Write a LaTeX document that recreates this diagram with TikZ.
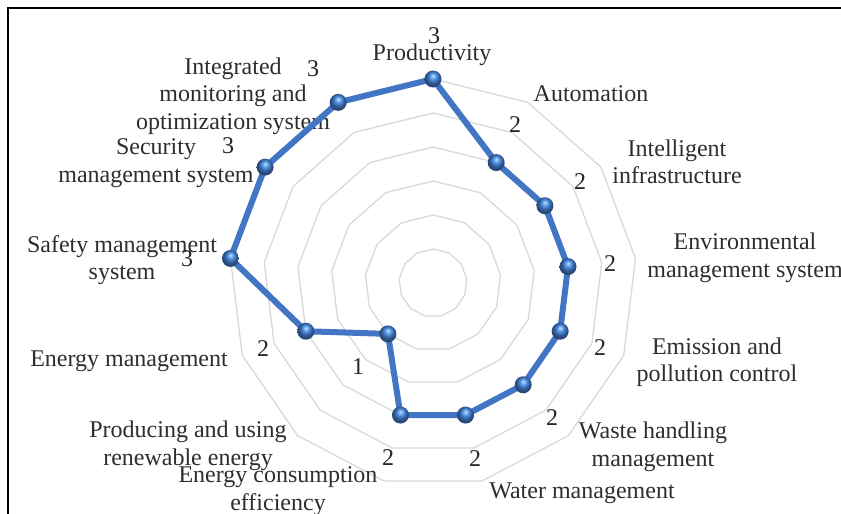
\documentclass[tikz,border=0pt]{standalone}
\usepackage{fontspec}
\setmainfont{Liberation Serif}
\definecolor{serie}{RGB}{66,118,196}
\definecolor{ballc}{RGB}{80,150,232}
\definecolor{ringc}{RGB}{217,217,217}
\pgfdeclareradialshading{bluesphere}{\pgfpoint{0bp}{10bp}}{%
  color(0bp)=(ballc!30!white); color(9bp)=(ballc); color(18bp)=(serie!75!black); color(25bp)=(serie!60!black); color(50bp)=(serie!60!black)}
\begin{document}
\begin{tikzpicture}[x=1pt,y=-1pt,
  lbl/.style={font=\fontsize{24}{27.5}\selectfont, text=black!82, align=center, inner sep=0pt},
  val/.style={font=\fontsize{24}{27.5}\selectfont, text=black!85, inner sep=0pt},
  ring/.style={draw=ringc, line width=1.3pt, line join=round},
  serieline/.style={draw=serie, line width=6pt, line join=round},
  marker/.style={circle, minimum size=17pt, inner sep=0pt, shading=bluesphere}]
\useasboundingbox (0,0) rectangle (841,514);
\fill[white] (0,0) rectangle (841,514);
\draw[line width=2pt] (8,514) -- (8,8) -- (841,8);
% grid rings
\foreach \r in {1,...,6} {
  \draw[ring] (433, {283-34*\r}) \foreach \k in {1,...,12} { -- ({433+34*\r*sin(\k*360/13)}, {283-34*\r*cos(\k*360/13)}) } -- cycle;
}
% category labels
\node[lbl] (lProd) at (432,55) {Productivity};
\node[lbl] (lAuto) at (591,94) {Automation};
\node[lbl] (lInt) at (677,162) {Intelligent\\infrastructure};
\node[lbl] (lEnv) at (745,258) {Environmental\\management system};
\node[lbl] (lEmi) at (717,362) {Emission and\\pollution control};
\node[lbl] (lWaste) at (653,447) {Waste handling\\management};
\node[lbl] (lWater) at (582,493) {Water management};
\node[lbl] (lCons) at (278,491) {Energy consumption\\efficiency};
\node[lbl] (lRen) at (188,446) {Producing and using\\renewable energy};
\node[lbl] (lEM) at (129,361) {Energy management};
\node[lbl] (lSaf) at (122,260) {Safety management\\system};
\node[lbl] (lSec) at (156,163) {Security\\management system};
\node[lbl] (lIMO) at (233,96) {Integrated\\monitoring and\\optimization system};
% data
\foreach \v [count=\k from 0] in {3,2,2,2,2,2,2,2,1,2,3,3,3} {
  \coordinate (c\k) at ({433+68*\v*sin(\k*360/13)}, {283-68*\v*cos(\k*360/13)});
}
\draw[serieline] (c0) -- (c1) -- (c2) -- (c3) -- (c4) -- (c5) -- (c6) -- (c7) -- (c8) -- (c9) -- (c10) -- (c11) -- (c12) -- cycle;
\foreach \k in {0,...,12} \node[marker] (m\k) at (c\k) {};
% value labels
\node[val] (v0) at (434,36) {3};
\node[val] (v1) at (515,125) {2};
\node[val] (v2) at (580,182) {2};
\node[val] (v3) at (610,264) {2};
\node[val] (v4) at (600,348) {2};
\node[val] (v5) at (552,418) {2};
\node[val] (v6) at (475,459) {2};
\node[val] (v7) at (388,458) {2};
\node[val] (v8) at (358,367) {1};
\node[val] (v9) at (263,349) {2};
\node[val] (v10) at (187,259) {3};
\node[val] (v11) at (228,146) {3};
\node[val] (v12) at (313,69) {3};
\end{tikzpicture}
\end{document}
